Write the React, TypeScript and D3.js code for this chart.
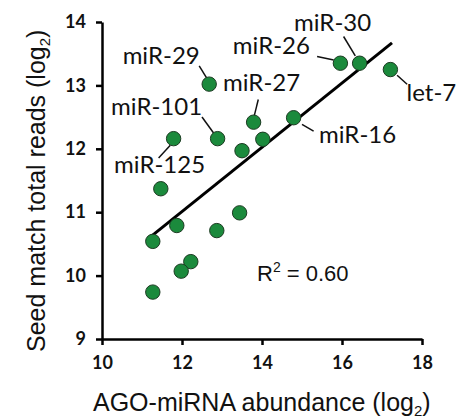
import React, { useEffect, useRef } from "react";
import * as d3 from "d3";

const width = 458;
const height = 419;
const margin = { top: 22, right: 36, bottom: 80, left: 102 };

// AGO-miRNA abundance (log2) vs seed match total reads (log2)
const abundance = [17.21, 16.44, 15.96, 12.68, 13.79, 14.79, 12.89, 11.79, 13.5, 14.02, 11.47, 11.87, 11.27, 12.87, 13.44, 12.22, 11.98, 11.27];
const reads = [13.25, 13.35, 13.35, 13.02, 12.42, 12.49, 12.16, 12.16, 11.97, 12.15, 11.37, 10.79, 10.54, 10.71, 10.99, 10.22, 10.07, 9.74];
const names = ["let-7", "miR-30", "miR-26", "miR-29", "miR-27", "miR-16", "miR-101", "miR-125", "", "", "", "", "", "", "", "", "", ""];

const xTicks = [10, 12, 14, 16, 18];
const yTicks = [9, 10, 11, 12, 13, 14];

// fitted line ends
const fitX = [11.15, 17.25];
const fitY = [10.58, 13.67];
const rSquared = "0.60";

// where each label sits relative to its point (px): text centre, leader line
const labelLayout: Record<string, { dx: number; dy: number; l: number[] }> = {
  "let-7": { dx: 41, dy: 31, l: [6.7, 5.7, 16.7, 14.7] },
  "miR-30": { dx: -27, dy: -32, l: [-16, -26.7, -4.3, -7.3] },
  "miR-26": { dx: -69, dy: -9, l: [-23.3, -6.7, -6.7, -3.3] },
  "miR-29": { dx: -48, dy: -20, l: [-10, -18.3, -2.3, -5.7] },
  "miR-27": { dx: 8, dy: -31, l: [4.7, -22.7, 0.7, -6.5] },
  "miR-16": { dx: 64, dy: 25, l: [8.4, 6.7, 20, 13.4] },
  "miR-101": { dx: -61, dy: -24, l: [-15.6, -21.7, -4, -5.7] },
  "miR-125": { dx: -14, dy: 34, l: [-3.3, 6.7, -15, 19.3] },
};

const x = d3.scaleLinear([10, 18], [margin.left, width - margin.right]);
const y = d3.scaleLinear([9, 14], [height - margin.bottom, margin.top]);

const labelFont = "Lato, 'Open Sans', sans-serif";
const axisFont = "'Liberation Sans', Arial, sans-serif";

function Chart() {
  const ref = useRef<SVGSVGElement>(null);

  useEffect(() => {
    const svg = d3.select(ref.current);
    svg.selectAll("*").remove();

    const xAxis = svg
      .append("g")
      .attr("transform", `translate(0,${y(9)})`)
      .call(
        d3.axisBottom(x).tickValues(xTicks).tickFormat(d3.format("d")).tickSize(6).tickPadding(11).tickSizeOuter(0)
      );
    const yAxis = svg
      .append("g")
      .attr("transform", `translate(${x(10)},0)`)
      .call(
        d3.axisLeft(y).tickValues(yTicks).tickFormat(d3.format("d")).tickSize(6).tickPadding(10).tickSizeOuter(0)
      );

    [xAxis, yAxis].forEach((g) => {
      g.select(".domain").attr("stroke", "#000").attr("stroke-width", 2.5);
      g.selectAll(".tick line").attr("stroke", "#000").attr("stroke-width", 2.5);
      g.selectAll(".tick text")
        .attr("fill", "#111")
        .style("font-family", labelFont)
        .style("font-weight", "bold")
        .style("font-size", "18px");
    });

    // regression line
    svg
      .append("line")
      .attr("x1", x(fitX[0]))
      .attr("y1", y(fitY[0]))
      .attr("x2", x(fitX[1]))
      .attr("y2", y(fitY[1]))
      .attr("stroke", "#000")
      .attr("stroke-width", 3);

    // leader lines + labels
    const labelled = abundance.map((a, i) => ({ a, r: reads[i], n: names[i] })).filter((d) => d.n);
    labelled.forEach((d) => {
      const lay = labelLayout[d.n];
      const px = x(d.a);
      const py = y(d.r);
      svg
        .append("line")
        .attr("x1", px + lay.l[0])
        .attr("y1", py + lay.l[1])
        .attr("x2", px + lay.l[2])
        .attr("y2", py + lay.l[3])
        .attr("stroke", "#111")
        .attr("stroke-width", 1.5);
      svg
        .append("text")
        .attr("x", px + lay.dx)
        .attr("y", py + lay.dy)
        .attr("text-anchor", "middle")
        .style("font-family", labelFont)
        .style("font-size", "24px")
        .attr("fill", "#111")
        .text(d.n);
    });

    svg
      .append("g")
      .selectAll("circle")
      .data(abundance)
      .join("circle")
      .attr("cx", (d) => x(d))
      .attr("cy", (_, i) => y(reads[i]))
      .attr("r", 7.2)
      .attr("fill", "#1b8a3c")
      .attr("stroke", "#1c3b22")
      .attr("stroke-width", 1);

    // R^2
    const r2 = svg
      .append("text")
      .attr("x", 257)
      .attr("y", 281)
      .style("font-family", axisFont)
      .style("font-size", "22px")
      .attr("fill", "#111");
    r2.append("tspan").text("R");
    r2.append("tspan").attr("dy", -9).style("font-size", "14px").text("2");
    r2.append("tspan").attr("dy", 9).text(` = ${rSquared}`);

    // axis titles
    const xt = svg
      .append("text")
      .attr("x", 93)
      .attr("y", 411)
      .style("font-family", axisFont)
      .style("font-size", "25px")
      .attr("fill", "#111");
    xt.append("tspan").text("AGO-miRNA abundance (log");
    xt.append("tspan").attr("dy", 5).style("font-size", "15px").text("2");
    xt.append("tspan").attr("dy", -5).text(")");

    const yt = svg
      .append("text")
      .attr("transform", `translate(45,352) rotate(-90)`)
      .style("font-family", axisFont)
      .style("font-size", "25px")
      .attr("fill", "#111");
    yt.append("tspan").text("Seed match total reads (log");
    yt.append("tspan").attr("dy", 5).style("font-size", "15px").text("2");
    yt.append("tspan").attr("dy", -5).text(")");
  }, []);

  return (
    <svg
      ref={ref}
      width={width}
      height={height}
      style={{ position: "absolute", left: 0, top: 0, background: "#fff" }}
    ></svg>
  );
}

export default function App() {
  return <Chart />;
}
